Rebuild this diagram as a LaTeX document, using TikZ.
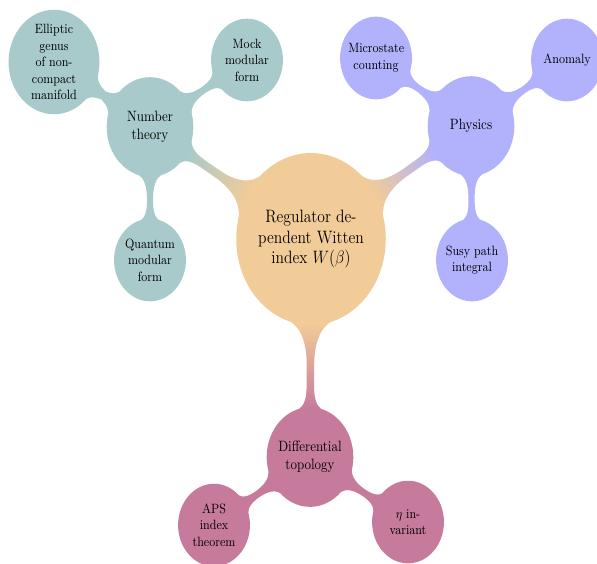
\documentclass[tikz,border=0pt]{standalone}
\usetikzlibrary{mindmap}
\definecolor{rootcol}{RGB}{241,203,152}
\definecolor{ntcol}{RGB}{168,202,202}
\definecolor{phcol}{RGB}{178,178,252}
\definecolor{dtcol}{RGB}{198,123,156}
\tikzset{
  rootc/.style={concept, minimum size=4cm, text width=3cm, font=\large, align=center},
  lvlone/.style={concept, minimum size=2.3cm, text width=2cm, font=\normalsize, align=center},
  lvltwo/.style={concept, minimum size=1.9cm, text width=1.5cm, font=\small, align=center},
  bar/.style 2 args={circle connection bar switch color=from (#1) to (#2)}
}
\begin{document}
\begin{tikzpicture}[x=0.7692pt,y=-0.6689pt]
\useasboundingbox (0pt,0pt) rectangle (459.2pt,-433.8pt);
\begin{scope}[transform canvas={yscale=1.15}, mindmap]
  % nodes
  \node[concept color=rootcol, rootc] (root) at (311,239) {Regulator de-\\pendent Witten\\index $W(\beta)$};
  \node[concept color=ntcol, lvlone] (nt) at (150,127) {Number\\theory};
  \node[concept color=ntcol, lvltwo] (ell) at (54,62) {Elliptic\\genus\\of non-\\compact\\manifold};
  \node[concept color=ntcol, lvltwo] (mock) at (247,60) {Mock\\modular\\form};
  \node[concept color=ntcol, lvltwo] (quant) at (150,260) {Quantum\\modular\\form};
  \node[concept color=phcol, lvlone] (phys) at (471,126) {Physics};
  \node[concept color=phcol, lvltwo] (micro) at (376,58) {Microstate\\counting};
  \node[concept color=phcol, lvltwo] (anom) at (567,60) {Anomaly};
  \node[concept color=phcol, lvltwo] (susy) at (472,260) {Susy path\\integral};
  \node[concept color=dtcol, lvlone] (diff) at (310,457) {Differential\\topology};
  \node[concept color=dtcol, lvltwo] (aps) at (214,525) {APS\\index\\theorem};
  \node[concept color=dtcol, lvltwo] (eta) at (408,522) {$\eta$ in-\\variant};
  % connection bars
  \path (root) to[bar={rootcol}{ntcol}] (nt);
  \path (root) to[bar={rootcol}{phcol}] (phys);
  \path (root) to[bar={rootcol}{dtcol}] (diff);
  \path (nt) to[bar={ntcol}{ntcol}] (ell);
  \path (nt) to[bar={ntcol}{ntcol}] (mock);
  \path (nt) to[bar={ntcol}{ntcol}] (quant);
  \path (phys) to[bar={phcol}{phcol}] (micro);
  \path (phys) to[bar={phcol}{phcol}] (anom);
  \path (phys) to[bar={phcol}{phcol}] (susy);
  \path (diff) to[bar={dtcol}{dtcol}] (aps);
  \path (diff) to[bar={dtcol}{dtcol}] (eta);
\end{scope}
\end{tikzpicture}
\end{document}
